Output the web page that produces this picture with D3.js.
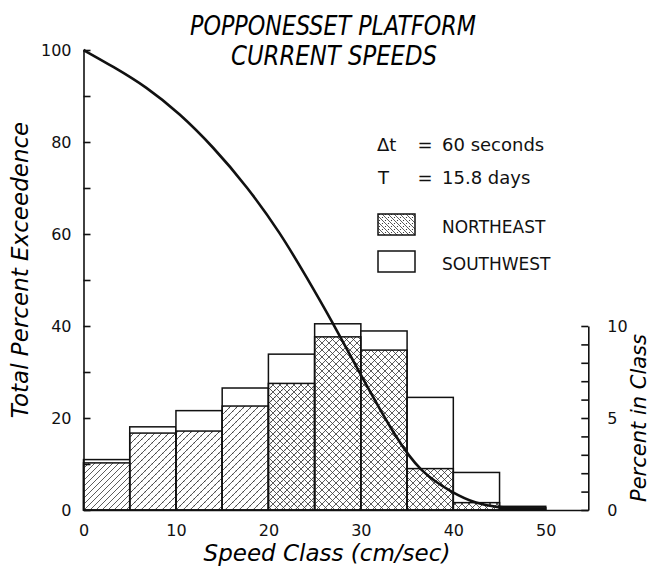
<!DOCTYPE html>
<html>
<head>
<meta charset="utf-8">
<script src="https://cdn.jsdelivr.net/npm/d3@7"></script>
<style>
  body { margin: 0; background: #fff; }
  svg { display: block; }
  .tick text { font-family: "DejaVu Sans", sans-serif; font-size: 16px; fill: #111; }
  .axis path, .axis line { stroke: #111; stroke-width: 1.6px; }
</style>
</head>
<body>
<div id="chart"></div>
<script>
// histogram bins (cm/sec), values in percent of record
const binStart = [0, 5, 10, 15, 20, 25, 30, 35, 40, 45];
const binWidth = 5;
const northeast = [2.56, 4.18, 4.29, 5.65, 6.88, 9.41, 8.69, 2.25, 0.40, 0.12];
const southwest = [2.74, 4.52, 5.40, 6.63, 8.47, 10.12, 9.73, 6.12, 2.04, 0.20];

// total percent exceedence curve
const curveSpeed = [0, 3.2, 6.8, 10.4, 14.0, 17.7, 21.3, 24.1, 26.8, 29.9, 33.8, 36.4, 40, 42.5, 44.7, 47, 50];
const exceedence = [100, 96.4, 92.0, 86.2, 79.0, 70.3, 60.2, 50.7, 41.3, 29.7, 15.6, 8.3, 3.6, 1.4, 0.6, 0.3, 0.1];

const xTicks = [0, 10, 20, 30, 40, 50];
const titleLines = ["POPPONESSET PLATFORM", "CURRENT SPEEDS"];

// fill style per bin for the northeast bars (the print varies along the axis)
const neFill = ["hatch", "hatchDots", "hatchDots", "hatchDots", "crossDots", "cross", "cross", "cross", "cross", "solid"];

const width = 652, height = 568;
const svg = d3.select("#chart").append("svg")
  .attr("width", width).attr("height", height);

const x = d3.scaleLinear().domain([0, 54.6]).range([83.5, 588.3]);
const y = d3.scaleLinear().domain([0, 100]).range([510, 50]);
const yR = d3.scaleLinear().domain([0, 10]).range([y(0), y(40)]);

// patterns
const defs = svg.append("defs");
function linePattern(id, angles, dots, size) {
  const p = defs.append("pattern").attr("id", id)
    .attr("patternUnits", "userSpaceOnUse")
    .attr("width", size).attr("height", size);
  angles.forEach(a => {
    // a: 1 for "/" , -1 for "\"
    if (a > 0) {
      p.append("path").attr("d", `M0,${size} L${size},0 M${-size/2},${size/2} L${size/2},${-size/2} M${size/2},${size*1.5} L${size*1.5},${size/2}`)
        .attr("stroke", "#333").attr("stroke-width", 0.8);
    } else {
      p.append("path").attr("d", `M0,0 L${size},${size} M${-size/2},${size/2} L${size/2},${size*1.5} M${size/2},${-size/2} L${size*1.5},${size/2}`)
        .attr("stroke", "#333").attr("stroke-width", 0.8);
    }
  });
  if (dots) {
    p.append("circle").attr("cx", size * 0.25).attr("cy", size * 0.75).attr("r", 0.6).attr("fill", "#222");
    p.append("circle").attr("cx", size * 0.75).attr("cy", size * 0.25).attr("r", 0.6).attr("fill", "#222");
  }
}
linePattern("hatch", [1], false, 6);
linePattern("hatchDots", [1], true, 7);
linePattern("cross", [1, -1], false, 7);
linePattern("crossDots", [1, -1], true, 7);
linePattern("legendNE", [-1], true, 6);
const fillOf = k => k === "solid" ? "#111" : `url(#${k})`;

// southwest bars behind, northeast in front
const bins = binStart.map((s, i) => ({ s, ne: northeast[i], sw: southwest[i], fill: neFill[i] }));
svg.append("g").selectAll("rect").data(bins).join("rect")
  .attr("x", d => x(d.s)).attr("width", d => x(d.s + binWidth) - x(d.s))
  .attr("y", d => yR(d.sw)).attr("height", d => yR(0) - yR(d.sw))
  .attr("fill", "#fff").attr("stroke", "#111").attr("stroke-width", 1.5);
svg.append("g").selectAll("rect").data(bins).join("rect")
  .attr("x", d => x(d.s)).attr("width", d => x(d.s + binWidth) - x(d.s))
  .attr("y", d => yR(d.ne)).attr("height", d => yR(0) - yR(d.ne))
  .attr("fill", d => fillOf(d.fill)).attr("stroke", "#111").attr("stroke-width", 1.5);

// exceedence curve
const line = d3.line().x(d => x(d[0])).y(d => y(d[1])).curve(d3.curveBasis);
svg.append("path")
  .datum(curveSpeed.map((s, i) => [s, exceedence[i]]))
  .attr("d", line).attr("fill", "none")
  .attr("stroke", "#111").attr("stroke-width", 2.6);

// axes
svg.append("g").attr("class", "axis")
  .attr("transform", `translate(${x(0)},0)`)
  .call(d3.axisLeft(y).tickValues(d3.range(0, 101, 10)).tickSize(-7).tickSizeOuter(0).tickPadding(12)
    .tickFormat(d => d % 20 === 0 ? d : ""));
svg.append("g").attr("class", "axis")
  .attr("transform", `translate(${x(54.6)},0)`)
  .call(d3.axisRight(yR).tickValues(d3.range(0, 11, 1)).tickSize(-7).tickSizeOuter(0).tickPadding(19)
    .tickFormat(d => d % 5 === 0 ? d : ""));
svg.append("g").attr("class", "axis")
  .attr("transform", `translate(0,${y(0)})`)
  .call(d3.axisBottom(x).tickValues(xTicks).tickSize(0).tickPadding(15));

// titles
const titleFont = '"Liberation Sans Narrow", "DejaVu Sans Condensed", sans-serif';
svg.append("text").attr("x", 333).attr("y", 35).attr("text-anchor", "middle")
  .attr("textLength", 286).attr("lengthAdjust", "spacingAndGlyphs")
  .style("font-family", titleFont).style("font-style", "italic").style("font-size", "27px")
  .text(titleLines[0]);
svg.append("text").attr("x", 334).attr("y", 65).attr("text-anchor", "middle")
  .attr("textLength", 206).attr("lengthAdjust", "spacingAndGlyphs")
  .style("font-family", titleFont).style("font-style", "italic").style("font-size", "27px")
  .text(titleLines[1]);

const labelFont = '"DejaVu Sans", sans-serif';
svg.append("text").attr("transform", "translate(28,270) rotate(-90)").attr("text-anchor", "middle")
  .style("font-family", labelFont).style("font-style", "italic").style("font-size", "23px")
  .text("Total Percent Exceedence");
svg.append("text").attr("x", 327).attr("y", 561).attr("text-anchor", "middle")
  .style("font-family", labelFont).style("font-style", "italic").style("font-size", "23px")
  .text("Speed Class (cm/sec)");
svg.append("text").attr("transform", "translate(646,418) rotate(-90)").attr("text-anchor", "middle")
  .style("font-family", labelFont).style("font-style", "italic").style("font-size", "21px")
  .text("Percent in Class");

// parameters and legend
const info = svg.append("g").style("font-family", labelFont).style("font-size", "18px").attr("fill", "#111");
info.append("text").attr("x", 377).attr("y", 151).text("\u0394t");
info.append("text").attr("x", 425).attr("y", 151).attr("text-anchor", "middle").text("=");
info.append("text").attr("x", 442).attr("y", 151).text("60 seconds");
info.append("text").attr("x", 378).attr("y", 184).text("T");
info.append("text").attr("x", 425).attr("y", 184).attr("text-anchor", "middle").text("=");
info.append("text").attr("x", 442).attr("y", 184).text("15.8 days");

info.append("rect").attr("x", 378).attr("y", 214).attr("width", 37).attr("height", 21)
  .attr("fill", "url(#legendNE)").attr("stroke", "#111").attr("stroke-width", 1.5);
info.append("text").attr("x", 442).attr("y", 233).style("font-size", "17px").text("NORTHEAST");
info.append("rect").attr("x", 378).attr("y", 251).attr("width", 37).attr("height", 21)
  .attr("fill", "#fff").attr("stroke", "#111").attr("stroke-width", 1.5);
info.append("text").attr("x", 442).attr("y", 270).style("font-size", "17px").text("SOUTHWEST");
</script>
</body>
</html>
